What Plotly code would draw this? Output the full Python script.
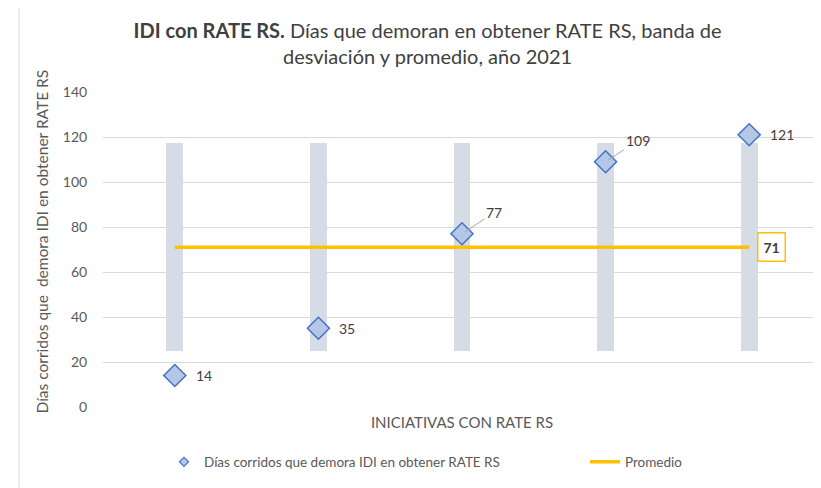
import plotly.graph_objects as go

categories = ["Iniciativa 1", "Iniciativa 2", "Iniciativa 3", "Iniciativa 4", "Iniciativa 5"]
dias = [14, 35, 77, 109, 121]
promedio = 71
banda_inferior = [25, 25, 25, 25, 25]
banda_superior = [117.5, 117.5, 117.5, 117.5, 117.5]
y_ticks = [0, 20, 40, 60, 80, 100, 120, 140]

FONT = "Lato"
GREY = "#595959"
SERIE = "Días corridos que demora IDI en obtener RATE RS"

fig = go.Figure()

# deviation band
fig.add_trace(go.Bar(
    x=categories,
    y=[u - l for u, l in zip(banda_superior, banda_inferior)],
    base=banda_inferior,
    width=0.118,
    marker=dict(color="#D6DCE5", line=dict(width=0)),
    showlegend=False,
    hoverinfo="skip",
))

# average line
fig.add_trace(go.Scatter(
    x=categories,
    y=[promedio] * len(categories),
    mode="lines",
    line=dict(color="#FFC000", width=3.5),
    name="Promedio",
    legend="legend2",
))

# points
fig.add_trace(go.Scatter(
    x=categories,
    y=dias,
    mode="markers",
    marker=dict(symbol="diamond", size=17, color="#B4C7E7",
                line=dict(color="#4472C4", width=1.5)),
    name=SERIE,
    showlegend=False,
))

# legend-only entry with small marker
fig.add_trace(go.Scatter(
    x=[None], y=[None],
    mode="markers",
    marker=dict(symbol="diamond", size=7, color="#B4C7E7",
                line=dict(color="#4472C4", width=1.2)),
    name=SERIE,
    legend="legend",
))

# data labels
for i, (c, v) in enumerate(zip(categories, dias)):
    if i in (2, 3):
        fig.add_annotation(
            x=c, y=v, text=str(v), showarrow=True, arrowhead=0,
            arrowcolor="#A6A6A6", arrowwidth=1, ax=32, ay=-21,
            standoff=3, xanchor="center",
            font=dict(family=FONT, size=14, color="#404040"),
        )
    else:
        fig.add_annotation(
            x=c, y=v, text=str(v), showarrow=False, xanchor="left",
            xshift=19, font=dict(family=FONT, size=14, color="#404040"),
        )

# average label
fig.add_annotation(
    x=categories[-1], y=promedio, text="<b>%d</b>" % promedio,
    showarrow=False, xanchor="left", xshift=8,
    bordercolor="#FFC000", borderwidth=1.5, borderpad=5,
    bgcolor="white",
    font=dict(family=FONT, size=14, color="#404040"),
)

# y axis title
fig.add_annotation(
    xref="paper", yref="paper", x=0, y=0.5, xshift=-62, yshift=8,
    xanchor="center", yanchor="middle", textangle=-90, showarrow=False,
    text="Días corridos que  demora IDI en obtener RATE RS",
    font=dict(family=FONT, size=15.5, color=GREY),
)

# outer frame
fig.add_shape(type="rect", xref="paper", yref="paper",
              x0=-0.117, x1=1.05, y0=-0.4, y1=1.27,
              line=dict(color="#D9D9D9", width=1), layer="below")

fig.update_layout(
    width=821, height=488,
    margin=dict(l=95, r=8, t=84, b=89, autoexpand=False),
    paper_bgcolor="white", plot_bgcolor="white",
    font=dict(family=FONT, size=13, color=GREY),
    title=dict(
        text="<b>IDI con RATE RS.</b> Días que demoran en obtener RATE RS, banda de<br>desviación y promedio, año 2021",
        x=0.511, xanchor="center", xref="container",
        y=1 - 30 / 488, yanchor="top", yref="container",
        font=dict(family=FONT, size=20, color="#404040"),
    ),
    xaxis=dict(
        type="category", range=[-0.5, 4.5], showticklabels=False,
        showgrid=False, zeroline=False, showline=False, ticks="",
        title=dict(text="INICIATIVAS CON RATE RS", standoff=10,
                   font=dict(family=FONT, size=15, color=GREY)),
    ),
    yaxis=dict(
        range=[0, 140], tickvals=y_ticks, showgrid=True,
        gridcolor="#D9D9D9", gridwidth=1, zeroline=False, showline=False,
        ticks="outside", ticklen=12, tickcolor="rgba(0,0,0,0)",
        tickfont=dict(family=FONT, size=14, color=GREY),
    ),
    legend=dict(
        orientation="h", x=156 / 821, xanchor="left", xref="container",
        y=1 - 454 / 488, yanchor="middle", yref="container",
        font=dict(family=FONT, size=13.5, color=GREY),
    ),
    legend2=dict(
        orientation="h", x=577 / 821, xanchor="left", xref="container",
        y=1 - 454 / 488, yanchor="middle", yref="container",
        font=dict(family=FONT, size=13.5, color=GREY),
    ),
    bargap=0,
)

fig.write_html("out.html")
